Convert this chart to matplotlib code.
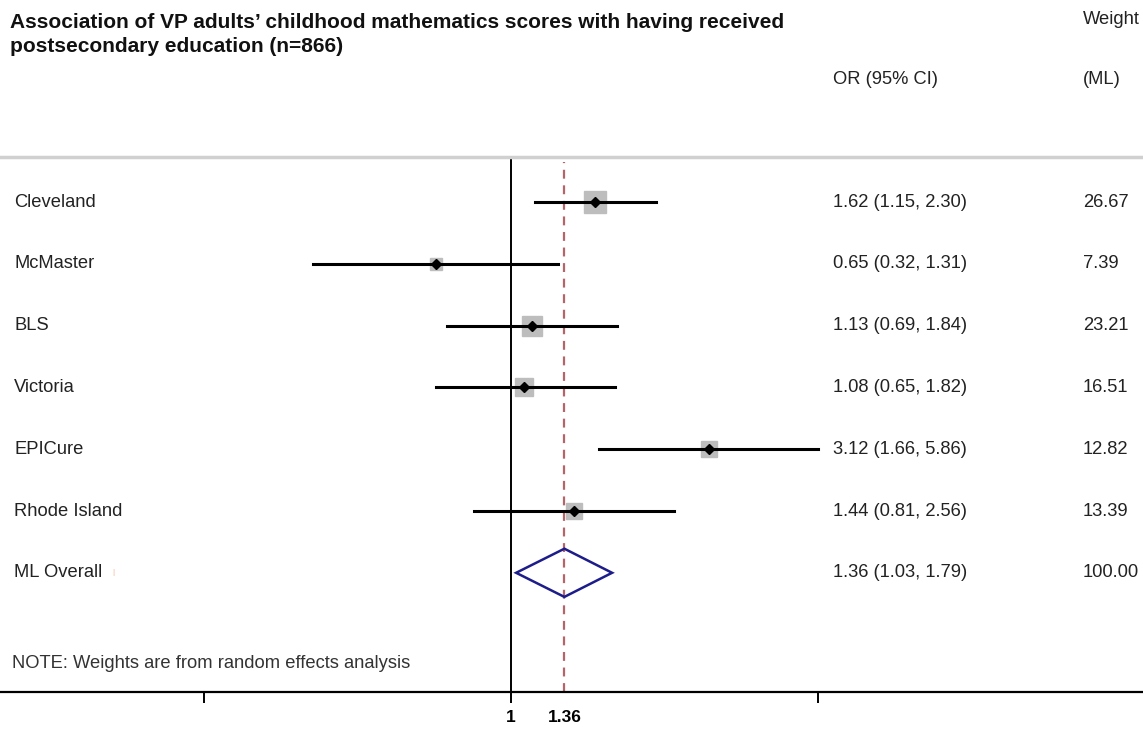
import numpy as np
import matplotlib
matplotlib.use("Agg")
import matplotlib.pyplot as plt
from matplotlib.patches import Polygon
from matplotlib.ticker import FixedLocator, FixedFormatter
import matplotlib.transforms as mtransforms

plt.rcParams['font.family'] = ['Liberation Sans', 'DejaVu Sans']

# ---- data ----
studies = ['Cleveland', 'McMaster', 'BLS', 'Victoria', 'EPICure', 'Rhode Island']
or_vals = [1.62, 0.65, 1.13, 1.08, 3.12, 1.44]
ci_low = [1.15, 0.32, 0.69, 0.65, 1.66, 0.81]
ci_high = [2.30, 1.31, 1.84, 1.82, 5.86, 2.56]
weights = [26.67, 7.39, 23.21, 16.51, 12.82, 13.39]
overall_label = 'ML Overall'
overall_or = 1.36
overall_low = 1.03
overall_high = 1.79
overall_weight = 100.00
axis_ticks = [1 / 5.86, 1, 5.86]
axis_tick_labels = ['', '1', '']

W, H = 1143, 729
fig = plt.figure(figsize=(W / 100, H / 100), dpi=100)

# axes region in pixels
top_px, bot_px = 157, 692
ax = fig.add_axes([0, 1 - bot_px / H, 1, (bot_px - top_px) / H])
ax.set_xscale('log')
# pixel -> data mapping: 1 at x=511, 173.6 px per ln unit
ppl = 173.6
ax.set_xlim(np.exp((0 - 511) / ppl), np.exp((W - 511) / ppl))
row_px0, row_step = 202, 61.8
ax.set_ylim((bot_px - row_px0) / row_step + 1, (top_px - row_px0) / row_step + 1)

for s in ['left', 'right']:
    ax.spines[s].set_visible(False)
ax.spines['top'].set_color('#d0d0d0')
ax.spines['top'].set_linewidth(2.5)
ax.spines['bottom'].set_color('black')
ax.spines['bottom'].set_linewidth(1.6)
ax.set_yticks([])

ax.xaxis.set_major_locator(FixedLocator(axis_ticks))
ax.xaxis.set_major_formatter(FixedFormatter(axis_tick_labels))
ax.xaxis.set_minor_locator(FixedLocator([overall_or]))
ax.xaxis.set_minor_formatter(FixedFormatter(['%.2f' % overall_or]))
ax.tick_params(axis='x', which='major', length=8, width=1.4, direction='out',
               labelsize=12.5, pad=5)
ax.tick_params(axis='x', which='minor', length=0, labelsize=12.5, pad=13)
for lab in ax.get_xticklabels(which='both'):
    lab.set_fontweight('bold')

# reference lines
ymin, ymax = ax.get_ylim()
ax.axvline(1, color='black', lw=1.4, zorder=1)
ax.plot([overall_or, overall_or], [ymin, 0.35], color='#b5646a', lw=1.6,
        ls=(0, (4, 3)), zorder=1)

rows = np.arange(1, len(studies) + 1)
msize = [3.1 * np.sqrt(w) for w in weights]
for r, o, lo, hi, ms in zip(rows, or_vals, ci_low, ci_high, msize):
    ax.plot([lo, hi], [r, r], color='black', lw=2.2, zorder=3)
    ax.plot([o], [r], marker='s', ms=ms, color='#bdbdbd', mec='#bdbdbd', zorder=2)
    ax.plot([o], [r], marker='D', ms=5.5, color='black', zorder=4)

# overall diamond
ry = len(studies) + 1
dh = 0.39
ax.add_patch(Polygon([[overall_low, ry], [overall_or, ry - dh], [overall_high, ry],
                      [overall_or, ry + dh]], closed=True, fill=False,
                     edgecolor='#1c1c8a', lw=1.8, zorder=4))

# text columns
trans = mtransforms.blended_transform_factory(ax.transAxes, ax.transData)
fs = 13.2
all_labels = studies + [overall_label]
all_or = or_vals + [overall_or]
all_lo = ci_low + [overall_low]
all_hi = ci_high + [overall_high]
all_w = weights + [overall_weight]
for i, r in enumerate(list(rows) + [ry]):
    ax.text(14 / W, r, all_labels[i], transform=trans, ha='left', va='center',
            fontsize=fs, color='#222222')
    ax.text(833 / W, r, '%.2f (%.2f, %.2f)' % (all_or[i], all_lo[i], all_hi[i]),
            transform=trans, ha='left', va='center', fontsize=fs, color='#222222')
    ax.text(1083 / W, r, '%.2f' % all_w[i], transform=trans, ha='left',
            va='center', fontsize=fs, color='#222222')

# small orange mark after "ML Overall"
ax.text(112 / W, ry, '|', transform=trans, ha='left', va='center', fontsize=6,
        color='#f0b090')

ax.text(12 / W, (663 - row_px0) / row_step + 1, 'NOTE: Weights are from random effects analysis',
        transform=trans, ha='left', va='center', fontsize=fs, color='#333333')

# headers
tfs = 15
fig.text(10 / W, 1 - 22 / H,
         "Association of VP adults\u2019 childhood mathematics scores with having received",
         ha='left', va='center', fontsize=tfs, fontweight='bold', color='#111111')
fig.text(10 / W, 1 - 46 / H, "postsecondary education (n=866)",
         ha='left', va='center', fontsize=tfs, fontweight='bold', color='#111111')
fig.text(833 / W, 1 - 80 / H, 'OR (95% CI)', ha='left', va='center', fontsize=fs,
         color='#222222')
fig.text(1083 / W, 1 - 19 / H, 'Weight', ha='left', va='center', fontsize=fs,
         color='#222222')
fig.text(1083 / W, 1 - 80 / H, '(ML)', ha='left', va='center', fontsize=fs,
         color='#222222')

fig.savefig('out.png', dpi=100)
